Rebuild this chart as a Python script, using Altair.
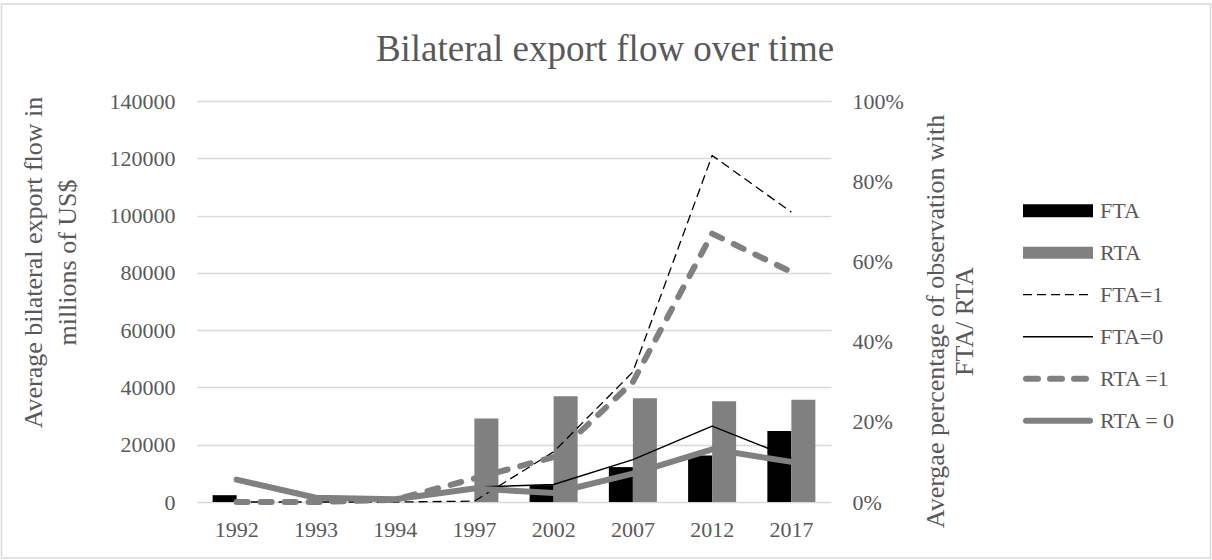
import altair as alt
import pandas as pd

# ---------------- data ----------------
years = ["1992", "1993", "1994", "1997", "2002", "2007", "2012", "2017"]
# bars: share of observations (right axis)
fta_share = [0.017, 0.0, 0.0, 0.0, 0.042, 0.087, 0.116, 0.177]
rta_share = [0.0, 0.0, 0.0, 0.208, 0.264, 0.259, 0.251, 0.255]
# lines: average bilateral export flow (left axis)
fta1 = [0, 0, 0, 300, 17500, 45400, 121000, 101200]
fta0 = [7800, 1500, 950, 5200, 6100, 14800, 26500, 15500]
rta1 = [0, 0, 800, 8200, 15700, 41900, 93700, 80300]
rta0 = [7800, 1500, 950, 4700, 3150, 9900, 18400, 14000]

bar_types = ["FTA", "RTA"]
line_series = ["FTA=1", "FTA=0", "RTA =1", "RTA = 0"]
legend_items = ["FTA", "RTA", "FTA=1", "FTA=0", "RTA =1", "RTA = 0"]
left_ticks = [0, 20000, 40000, 60000, 80000, 100000, 120000, 140000]
right_ticks = [0, 0.2, 0.4, 0.6, 0.8, 1.0]

title_text = "Bilateral export flow over time"
left_title = ["Average bilateral export flow in", "millions of US$"]
right_title = ["Avergae percentage of observation with", "FTA/ RTA"]

# ---------------- tables ----------------
bars_df = pd.DataFrame(
    [{"year": y, "type": "FTA", "share": v} for y, v in zip(years, fta_share)]
    + [{"year": y, "type": "RTA", "share": v} for y, v in zip(years, rta_share)]
)
series_values = {"FTA=1": fta1, "FTA=0": fta0, "RTA =1": rta1, "RTA = 0": rta0}
lines_df = pd.DataFrame(
    [{"year": y, "series": s, "value": v}
     for s in line_series for y, v in zip(years, series_values[s])]
)
legend_df = pd.DataFrame({"item": legend_items})

FONT = "Liberation Serif"
TXT = "#595959"
GRAY = "#808080"

W, H = 634, 401
PAD = {"left": 197, "top": 101, "right": 1212 - 197 - W, "bottom": 560 - 101 - H}

x_scale = alt.Scale(domain=years, paddingInner=0.394, paddingOuter=0.197)
x_axis = alt.Axis(title=None, labelFont=FONT, labelFontSize=22, labelColor=TXT,
                  ticks=False, domain=False, grid=False, labelPadding=17, labelAngle=0)

# ---------------- bars (right axis) ----------------
bars = alt.Chart(bars_df).mark_bar().encode(
    x=alt.X("year:N", sort=years, scale=x_scale, axis=x_axis),
    xOffset=alt.XOffset("type:N", sort=bar_types,
                        scale=alt.Scale(domain=bar_types, paddingInner=0, paddingOuter=0)),
    y=alt.Y("share:Q", scale=alt.Scale(domain=[0, 1], nice=False),
            axis=alt.Axis(orient="right", values=right_ticks, format=".0%",
                          grid=False, ticks=False, domain=False,
                          labelFont=FONT, labelFontSize=22, labelColor=TXT,
                          labelPadding=21, labelFlush=False, labelAlign="left",
                          title=right_title, titleFont=FONT, titleFontSize=26,
                          titleFontWeight="normal", titleColor=TXT, titleAngle=270,
                          titleAlign="center", titleBaseline="alphabetic",
                          titleLineHeight=29, titleX=112, titleY=220)),
    color=alt.Color("type:N", scale=alt.Scale(domain=bar_types, range=["#000000", GRAY]),
                    legend=None),
)

# ---------------- lines (left axis) ----------------
styles = {
    "FTA=1": dict(color="#000000", strokeWidth=1.3, strokeDash=[9, 5], strokeCap="butt"),
    "FTA=0": dict(color="#000000", strokeWidth=1.5, strokeCap="butt"),
    "RTA =1": dict(color=GRAY, strokeWidth=6, strokeDash=[11, 13], strokeCap="round"),
    "RTA = 0": dict(color=GRAY, strokeWidth=6, strokeCap="round"),
}
left_axis = alt.Axis(orient="left", values=left_ticks, format="d", grid=True,
                     gridColor="#d9d9d9", gridWidth=1.5, ticks=False, domain=False,
                     labelFont=FONT, labelFontSize=22, labelColor=TXT,
                     labelPadding=22, labelFlush=False,
                     title=left_title, titleFont=FONT, titleFontSize=26,
                     titleFontWeight="normal", titleColor=TXT, titleAngle=270,
                     titleAlign="center", titleBaseline="alphabetic",
                     titleLineHeight=34, titleX=-156, titleY=161)
line_layers = []
for s in line_series:
    line_layers.append(
        alt.Chart(lines_df).transform_filter(alt.datum.series == s)
        .mark_line(strokeJoin="round", **styles[s])
        .encode(
            x=alt.X("year:N", sort=years),
            y=alt.Y("value:Q", scale=alt.Scale(domain=[0, 140000], nice=False),
                    axis=left_axis),
        )
    )
lines = alt.layer(*line_layers)

# ---------------- legend ----------------
leg_y = alt.Y("item:N", scale=alt.Scale(type="point", domain=legend_items,
                                        range=[109.7, 319.7], padding=0), axis=None)
leg_styles = {
    "FTA": dict(color="#000000", strokeWidth=13, strokeCap="butt"),
    "RTA": dict(color=GRAY, strokeWidth=12, strokeCap="butt"),
    "FTA=1": dict(color="#000000", strokeWidth=1.3, strokeDash=[9, 5], strokeCap="butt"),
    "FTA=0": dict(color="#000000", strokeWidth=1.5, strokeCap="butt"),
    "RTA =1": dict(color=GRAY, strokeWidth=6, strokeDash=[12, 12], strokeCap="round"),
    "RTA = 0": dict(color=GRAY, strokeWidth=6, strokeCap="round"),
}
leg_layers = []
for it in legend_items:
    st = dict(leg_styles[it])
    x0, x1 = 826, 896
    if st.get("strokeCap") == "round":
        x0, x1 = 829, 893
    leg_layers.append(
        alt.Chart(legend_df).transform_filter(alt.datum.item == it)
        .mark_rule(**st)
        .encode(x=alt.value(x0), x2=alt.value(x1), y=leg_y)
    )
leg_layers.append(
    alt.Chart(legend_df).mark_text(align="left", baseline="middle", font=FONT,
                                   fontSize=22, color=TXT)
    .encode(x=alt.value(903), y=leg_y, text="item:N")
)
border = alt.Chart(pd.DataFrame({"k": [0]})).mark_rect(
    fill="transparent", stroke="#d9d9d9", strokeWidth=1.5
).encode(x=alt.value(-195.5), x2=alt.value(1013.5), y=alt.value(-97), y2=alt.value(457))
leg_layers.append(border)
legend = alt.layer(*leg_layers)

chart = (
    alt.layer(bars, lines, legend)
    .resolve_scale(y="independent")
    .properties(
        width=W, height=H,
        padding=PAD,
        autosize=alt.AutoSizeParams(type="none"),
        background="white",
        title=alt.TitleParams(title_text, font=FONT, fontSize=37, fontWeight="normal",
                              color=TXT, anchor="middle", dx=91, offset=-94.75,
                              baseline="alphabetic"),
    )
    .configure_view(stroke=None)
)

chart.save("out.html", embed_options={"renderer": "svg", "actions": False})
